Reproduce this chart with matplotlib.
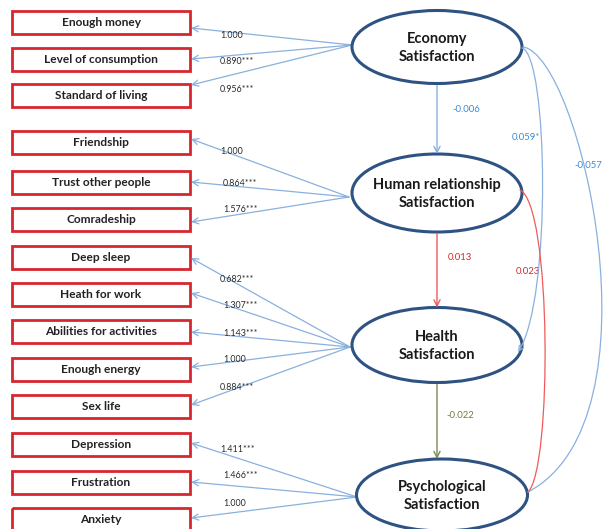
import matplotlib.pyplot as plt
from matplotlib.patches import Rectangle, Ellipse, FancyArrowPatch
from matplotlib.path import Path

# data
indicators = ['Enough money', 'Level of consumption', 'Standard of living',
              'Friendship', 'Trust other people', 'Comradeship',
              'Deep sleep', 'Heath for work', 'Abilities for activities', 'Enough energy', 'Sex life',
              'Depression', 'Frustration', 'Anxiety']
loadings = ['1.000', '0.890***', '0.956***',
            '1.000', '0.864***', '1.576***',
            '0.682***', '1.307***', '1.143***', '1.000', '0.884***',
            '1.411***', '1.466***', '1.000']
factor_of = [0, 0, 0, 1, 1, 1, 2, 2, 2, 2, 2, 3, 3, 3]
factors = ['Economy\nSatisfaction', 'Human relationship\nSatisfaction',
           'Health\nSatisfaction', 'Psychological\nSatisfaction']
straight_paths = [(0, 1, '-0.006'), (1, 2, '0.013'), (2, 3, '-0.022')]
curved_paths = [(0, 2, '0.059*'), (0, 3, '-0.057'), (1, 3, '0.023')]

# layout (pixels)
box_y = [22, 59, 95, 142, 182, 219, 257, 294, 331, 369, 406, 444, 482, 519]
tip_y = [28, 59, 85, 139, 182, 222, 258, 293, 332, 367, 405, 443, 482, 518]
lab_xy = [(220, 35), (220, 62), (220, 89), (220, 151), (223, 184), (223, 210),
          (220, 279), (223, 306), (223, 334), (223, 360), (220, 387),
          (220, 449), (223, 475), (223, 503)]
ell = [(437, 47, 170, 73), (437, 193, 170, 78), (437, 345, 170, 75), (442, 495, 171, 72)]
src = [(352, 45), (349, 197), (350, 347), (357, 497)]

blue = '#8AB0DE'
blue_txt = '#3B8BD6'
red = '#F05A5A'
red_txt = '#D42A2A'
olive = '#7A8A55'
olive_txt = '#6E7F3C'
font = ['Lato', 'DejaVu Sans']

fig = plt.figure(figsize=(6.04, 5.29), dpi=100)
ax = fig.add_axes([0, 0, 1, 1])
ax.set_xlim(0, 604)
ax.set_ylim(529, 0)
ax.axis('off')

for i, name in enumerate(indicators):
    ax.add_patch(Rectangle((12, box_y[i] - 11.5), 178, 23, fill=False,
                           edgecolor='#D7262E', lw=2, zorder=3))
    ax.text(101, box_y[i] + 0.5, name, ha='center', va='center', fontsize=8.6,
            fontweight='bold', family=font, color='#222222', zorder=4)
    sx, sy = src[factor_of[i]]
    ax.annotate('', xy=(191, tip_y[i]), xytext=(sx, sy),
                arrowprops=dict(arrowstyle='->', color=blue, lw=0.9,
                                shrinkA=0, shrinkB=0, mutation_scale=11))
    ax.text(lab_xy[i][0], lab_xy[i][1], loadings[i], ha='left', va='center',
            fontsize=6.4, family=font, color='#2a2a2a', zorder=5)

for j, name in enumerate(factors):
    cx, cy, w, h = ell[j]
    ax.add_patch(Ellipse((cx, cy), w, h, fill=True, facecolor='white',
                         edgecolor='#2E5282', lw=2.2, zorder=3))
    ax.text(cx, cy + 1, name, ha='center', va='center', fontsize=10.5, fontweight='bold',
            family=font, color='#1a1a1a', linespacing=1.45, zorder=4)

# straight structural paths
sp_style = [(blue, blue_txt, (452, 110)), (red, red_txt, (448, 258)), (olive, olive_txt, (446, 415))]
for k, (a, b, val) in enumerate(straight_paths):
    col, tcol, (tx, ty) = sp_style[k]
    y0 = ell[a][1] + ell[a][3] / 2 + 2
    y1 = ell[b][1] - ell[b][3] / 2
    ax.annotate('', xy=(437, y1), xytext=(437, y0),
                arrowprops=dict(arrowstyle='->', color=col, lw=1.0,
                                shrinkA=0, shrinkB=0, mutation_scale=11))
    ax.text(tx, ty, val, ha='left', va='center', fontsize=6.8, family=font, color=tcol)

# curved structural paths
curves = [
    ([(522, 48), (548, 55), (552, 300), (518, 352)], blue, blue_txt, (512, 137)),
    ([(523, 47), (580, 55), (665, 420), (528, 492)], blue, blue_txt, (574, 165)),
    ([(520, 190), (552, 205), (552, 470), (528, 492)], red, red_txt, (516, 272)),
]
for k, (a, b, val) in enumerate(curved_paths):
    pts, col, tcol, (tx, ty) = curves[k]
    path = Path(pts, [Path.MOVETO, Path.CURVE4, Path.CURVE4, Path.CURVE4])
    head = '->' if k == 0 else '-'
    ax.add_patch(FancyArrowPatch(path=path, arrowstyle=head, color=col, lw=0.9,
                                 mutation_scale=9, zorder=5))
    ax.text(tx, ty, val, ha='left', va='center', fontsize=6.8, family=font, color=tcol)

fig.savefig('out.png', dpi=100)
